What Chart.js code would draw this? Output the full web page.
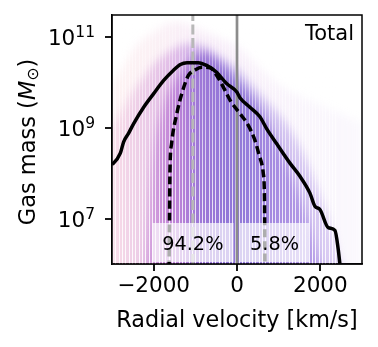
<!DOCTYPE html>
<html>
<head>
<meta charset="utf-8">
<script src="https://cdn.jsdelivr.net/npm/chart.js@4/dist/chart.umd.min.js"></script>
<style>
html, body { margin: 0; padding: 0; background: #fff; }
#wrap { width: 378px; height: 347px; }
</style>
</head>
<body>
<div id="wrap"><canvas id="chart"></canvas></div>
<script>
// velocity grid (km/s) for the cloud of individual halo profiles
const cloudVel = [-3000, -2750, -2500, -2250, -2000, -1750, -1500, -1250, -1000, -750, -500, -250,
                  0, 250, 500, 750, 1000, 1250, 1500, 1750, 2000, 2250, 2500, 2750, 3000];
// log10 gas mass of the cloud layers (faint envelope, bulk, dense core)
const cloudOuter = [9.9, 10.3, 10.7, 10.95, 11.1, 11.25, 11.32, 11.3, 11.2, 11.1, 11.0, 10.9,
                    10.8, 10.6, 10.35, 10.15, 9.95, 9.8, 9.7, 9.6, 9.5, 9.4, 9.3, 9.2, 9.1];
const cloudMid = [9.0, 9.4, 9.8, 10.1, 10.4, 10.6, 10.75, 10.85, 10.85, 10.78, 10.62, 10.47,
                  10.3, 10.05, 9.8, 9.55, 9.3, 9.0, 8.6, 8.1, 7.5, 6.8, 6.0, 5.8, 5.8];
const cloudCore = [5.8, 5.8, 5.8, 5.8, 8.4, 9.5, 10.0, 10.35, 10.6, 10.65, 10.5, 10.3,
                   10.05, 9.8, 9.5, 9.1, 8.6, 8.1, 7.5, 6.8, 6.0, 5.8, 5.8, 5.8, 5.8];

// total profile (solid)
const totalVel = [-3000, -2970, -2800, -2720, -2600, -2480, -2240, -2000, -1760, -1530, -1360, -1200,
                  -930, -730, -490, -250, 0, 70, 310, 550, 710, 950, 1270, 1510, 1750, 1870,
                  1990, 2190, 2350, 2430, 2470, 2500];
const totalLog = [8.2, 8.21, 8.44, 8.69, 8.88, 9.09, 9.45, 9.75, 10.04, 10.26, 10.39, 10.43,
                  10.43, 10.37, 10.22, 9.97, 9.78, 9.66, 9.45, 9.24, 8.98, 8.65, 8.22, 7.93, 7.56, 7.27,
                  7.2, 6.8, 6.74, 6.32, 6.0, 5.8];

// median profile (dashed)
const medianVel = [-1630, -1620, -1610, -1570, -1444, -1325, -1166, -1006, -846, -647, -486, -287,
                   -150, 72, 271, 431, 530, 630, 660, 670];
const medianLog = [5.9, 7.0, 8.0, 8.65, 9.31, 9.75, 10.15, 10.27, 10.33, 10.32, 10.15, 9.82,
                   9.58, 9.31, 9.05, 8.72, 8.4, 8.0, 7.4, 5.9];

const splitVel = -1060;
const zeroVel = 0;
const fracText = ['94.2%', '5.8%'];
const fracVel = [-1060, 900];
const xTicks = [-2000, 0, 2000];
const yTicks = [1e7, 1e9, 1e11];
const yTickExp = ['7', '9', '11'];
const yMin = 1e6, yMax = Math.pow(10, 11.48);
const binWidth = 80;

const FONT = 'DejaVu Sans';
const toPts = (xs, logs) => xs.map((v, i) => ({x: v, y: Math.pow(10, logs[i])}));

function hGrad(ctx, stops) {
  const a = ctx.chart.chartArea;
  if (!a) return 'rgba(0,0,0,0)';
  const g = ctx.chart.ctx.createLinearGradient(a.left, 0, a.right, 0);
  stops.forEach(s => g.addColorStop(s[0], s[1]));
  return g;
}

const decor = {
  id: 'decor',
  beforeDatasetsDraw(chart) {
    // soften the cloud layers
    chart.ctx.save();
    chart.ctx.filter = 'blur(4px)';
  },
  afterDatasetDraw(chart, args) {
    if (args.index !== 4) return;
    const {ctx, chartArea: a, scales: {x}} = chart;
    ctx.restore();
    // thin light gaps between histogram bins
    ctx.save();
    ctx.beginPath();
    ctx.rect(a.left, a.top, a.right - a.left, a.bottom - a.top);
    ctx.clip();
    const g = ctx.createLinearGradient(0, a.top, 0, a.bottom);
    g.addColorStop(0, 'rgba(255,255,255,0.25)');
    g.addColorStop(0.45, 'rgba(255,255,255,0.6)');
    g.addColorStop(1, 'rgba(255,255,255,0.9)');
    ctx.strokeStyle = g;
    ctx.lineWidth = 1;
    for (let v = -3000; v <= 2400; v += binWidth) {
      const px = Math.round(x.getPixelForValue(v)) + 0.5;
      ctx.beginPath();
      ctx.moveTo(px, a.top);
      ctx.lineTo(px, a.bottom);
      ctx.stroke();
    }
    ctx.restore();
  },
  afterDatasetsDraw(chart) {
    const {ctx, scales: {x}} = chart;
    ctx.save();
    ctx.font = '19.3px "' + FONT + '"';
    ctx.textAlign = 'center';
    ctx.textBaseline = 'alphabetic';
    fracText.forEach((t, i) => {
      const cx = x.getPixelForValue(fracVel[i]);
      const w = ctx.measureText(t).width + 20;
      ctx.fillStyle = 'rgba(255,255,255,0.68)';
      ctx.fillRect(cx - w / 2, 223, w, 39);
      ctx.fillStyle = '#000';
      ctx.fillText(t, cx, 250);
    });
    ctx.restore();
  },
  afterDraw(chart) {
    const {ctx, chartArea: a, scales: {x, y}} = chart;
    ctx.save();
    ctx.strokeStyle = '#000';
    ctx.lineWidth = 1.5;
    ctx.strokeRect(a.left, a.top, a.right - a.left, a.bottom - a.top);

    // tick marks
    ctx.lineWidth = 1.8;
    xTicks.forEach(v => {
      const px = Math.round(x.getPixelForValue(v));
      ctx.beginPath();
      ctx.moveTo(px, a.bottom);
      ctx.lineTo(px, a.bottom + 7);
      ctx.stroke();
    });
    yTicks.forEach(v => {
      const py = Math.round(y.getPixelForValue(v));
      ctx.beginPath();
      ctx.moveTo(a.left, py);
      ctx.lineTo(a.left - 7, py);
      ctx.stroke();
    });

    ctx.fillStyle = '#000';
    ctx.font = '21px "' + FONT + '"';
    ctx.textAlign = 'right';
    ctx.textBaseline = 'alphabetic';
    ctx.fillText('Total', a.right - 8, a.top + 25);

    // y tick labels 10^n
    yTicks.forEach((v, i) => {
      const py = y.getPixelForValue(v);
      ctx.font = '15.5px "' + FONT + '"';
      const ew = ctx.measureText(yTickExp[i]).width;
      ctx.fillText(yTickExp[i], 95, py);
      ctx.font = '21.5px "' + FONT + '"';
      ctx.fillText('10', 95 - ew, py + 8.5);
    });

    // y title: Gas mass (M_sun)
    const parts = [
      {t: 'Gas mass (', f: '22.5px "' + FONT + '"', dy: 0},
      {t: 'M', f: 'italic 22.5px "' + FONT + '"', dy: 0},
      {t: '⊙', f: '15.8px "' + FONT + '"', dy: 3},
      {t: ')', f: '22.5px "' + FONT + '"', dy: 0}
    ];
    let total = 0;
    parts.forEach(p => { ctx.font = p.f; p.w = ctx.measureText(p.t).width; total += p.w; });
    ctx.translate(35, 142);
    ctx.rotate(-Math.PI / 2);
    ctx.textAlign = 'left';
    let px = -total / 2;
    parts.forEach(p => { ctx.font = p.f; ctx.fillText(p.t, px, p.dy); px += p.w; });
    ctx.restore();
  }
};

const ctx = document.querySelector('#chart');
const chart = new Chart(ctx, {
  type: 'line',
  plugins: [decor],
  data: {
    datasets: [
      {
        label: 'Total',
        data: toPts(totalVel, totalLog),
        borderColor: '#000',
        borderWidth: 3.5,
        cubicInterpolationMode: 'monotone',
        fill: false
      },
      {
        label: 'Median',
        data: toPts(medianVel, medianLog),
        borderColor: '#000',
        borderWidth: 3.5,
        borderDash: [8, 4],
        cubicInterpolationMode: 'monotone',
        fill: false
      },
      {
        label: 'zero',
        data: [{x: zeroVel, y: yMin}, {x: zeroVel, y: yMax}],
        borderColor: '#8c8c8c',
        borderWidth: 2.7,
        fill: false
      },
      {
        label: 'split',
        data: [{x: splitVel, y: yMin}, {x: splitVel, y: yMax}],
        borderColor: '#b8b8b8',
        borderWidth: 3,
        borderDash: [10, 3.5],
        fill: false
      },
      {
        label: 'core',
        data: toPts(cloudVel, cloudCore),
        borderWidth: 0,
        borderColor: 'rgba(0,0,0,0)',
        backgroundColor: c => hGrad(c, [[0, 'rgba(190,120,210,0.3)'], [0.25, 'rgba(165,80,200,0.5)'], [0.33, 'rgba(120,70,200,0.55)'], [0.5, 'rgba(95,65,200,0.55)'], [0.67, 'rgba(120,80,210,0.45)'], [1, 'rgba(140,100,220,0.35)']]),
        cubicInterpolationMode: 'monotone',
        fill: {value: 1e5}
      },
      {
        label: 'mid',
        data: toPts(cloudVel, cloudMid),
        borderWidth: 0,
        borderColor: 'rgba(0,0,0,0)',
        backgroundColor: c => hGrad(c, [[0, 'rgba(235,175,210,0.35)'], [0.25, 'rgba(185,110,210,0.4)'], [0.33, 'rgba(150,95,210,0.4)'], [0.5, 'rgba(125,95,215,0.38)'], [1, 'rgba(160,120,225,0.3)']]),
        cubicInterpolationMode: 'monotone',
        fill: {value: 1e5}
      },
      {
        label: 'outer',
        data: toPts(cloudVel, cloudOuter),
        borderWidth: 0,
        borderColor: 'rgba(0,0,0,0)',
        backgroundColor: c => hGrad(c, [[0, 'rgba(250,200,200,0.22)'], [0.4, 'rgba(220,170,225,0.2)'], [1, 'rgba(215,195,240,0.1)']]),
        cubicInterpolationMode: 'monotone',
        fill: {value: 1e5}
      }
    ]
  },
  options: {
    responsive: true,
    maintainAspectRatio: false,
    animation: false,
    layout: {padding: {left: 0, right: 16, top: 15, bottom: 0}},
    elements: {point: {radius: 0}},
    plugins: {
      legend: {display: false},
      tooltip: {enabled: false}
    },
    scales: {
      x: {
        type: 'linear',
        min: -3000,
        max: 3000,
        afterBuildTicks: s => { s.ticks = xTicks.map(v => ({value: v})); },
        afterFit: s => { s.height = 83; },
        grid: {display: false, drawTicks: true, tickLength: 7},
        border: {color: '#000', width: 1.5},
        ticks: {
          color: '#000',
          font: {family: FONT, size: 21.5},
          padding: 3,
          maxRotation: 0,
          callback: v => (v < 0 ? '−' + Math.abs(v) : String(v))
        },
        title: {
          display: true,
          text: 'Radial velocity [km/s]',
          color: '#000',
          font: {family: FONT, size: 22.3},
          padding: {top: 0, bottom: 12}
        }
      },
      y: {
        type: 'logarithmic',
        min: yMin,
        max: yMax,
        afterBuildTicks: s => { s.ticks = yTicks.map(v => ({value: v})); },
        afterFit: s => { s.width = 112; },
        grid: {display: false, drawTicks: true, tickLength: 7},
        border: {color: '#000', width: 1.5},
        ticks: {
          color: '#000',
          font: {family: FONT, size: 21.5},
          padding: 0,
          callback: () => ''
        }
      }
    }
  }
});
</script>
</body>
</html>
